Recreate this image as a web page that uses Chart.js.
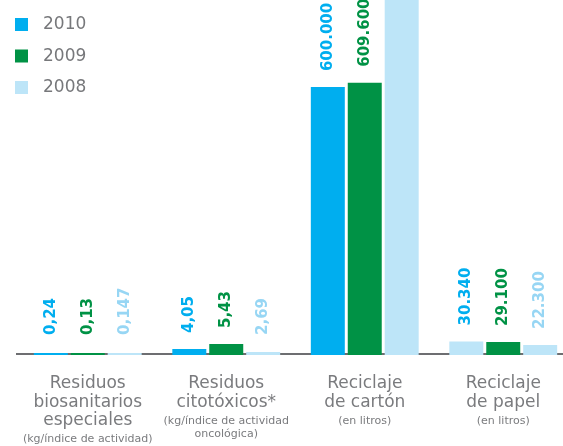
<!DOCTYPE html>
<html lang="es">
<head>
<meta charset="utf-8">
<title>Residuos y reciclaje</title>
<script src="https://cdn.jsdelivr.net/npm/chart.js@4"></script>
<style>
    html, body { margin: 0; padding: 0; background: #fff; overflow: hidden; }
    #wrap { position: relative; width: 580px; height: 446px; }
</style>
</head>
<body>
<div id="wrap"><canvas id="residuosChart"></canvas></div>
<script>
// Categorías (texto principal + unidad en letra pequeña)
const categorias = ['Residuos biosanitarios especiales', 'Residuos citotóxicos*', 'Reciclaje de cartón', 'Reciclaje de papel'];
const lineasCategoria = [['Residuos', 'biosanitarios', 'especiales'], ['Residuos', 'citotóxicos*'], ['Reciclaje', 'de cartón'], ['Reciclaje', 'de papel']];
const lineasUnidad = [['(kg/índice de actividad)'], ['(kg/índice de actividad', 'oncológica)'], ['(en litros)'], ['(en litros)']];

const anios = ['2010', '2009', '2008'];

// Cifras tal como aparecen encima de cada barra
const etiquetas2010 = ['0,24', '4,05', '600.000', '30.340'];
const etiquetas2009 = ['0,13', '5,43', '609.600', '29.100'];
const etiquetas2008 = ['0,147', '2,69', '', '22.300']; // la cifra de cartón 2008 queda fuera del dibujo

// Altura de las barras en el eje de litros (las de kg no van a escala, se leen del dibujo)
const valores2010 = [4500, 13400, 600000, 30340];
const valores2009 = [4500, 24600, 609600, 29100];
const valores2008 = [4500, 6700, 820000, 22300];

const AZUL = '#00aeef';
const VERDE = '#009245';
const CELESTE = '#bde5f8';
const CELESTE_TEXTO = '#97d6f4';
const GRIS = '#6d6e71';

const FUENTE = '"DejaVu Sans", sans-serif';

// Plugin: línea base, leyenda, cifras giradas y nombres de categoría
const dibujoExtra = {
    id: 'dibujoExtra',
    beforeDatasetsDraw(chart) {
        const { ctx, chartArea } = chart;
        ctx.save();
        ctx.fillStyle = GRIS;
        ctx.fillRect(16, chartArea.bottom - 2, chart.width - 16, 2);
        ctx.restore();
    },
    afterDatasetsDraw(chart) {
        const { ctx, chartArea } = chart;
        const etiquetas = [etiquetas2010, etiquetas2009, etiquetas2008];
        const coloresTexto = [AZUL, VERDE, CELESTE_TEXTO];

        ctx.save();
        // cifras verticales encima de las barras
        ctx.font = 'bold 15px ' + FUENTE;
        ctx.textAlign = 'left';
        ctx.textBaseline = 'middle';
        chart.data.datasets.forEach((ds, d) => {
            const meta = chart.getDatasetMeta(d);
            meta.data.forEach((bar, i) => {
                const texto = etiquetas[d][i];
                if (!texto) return;
                const abajo = Math.min(bar.y - 16, chartArea.bottom - 20);
                ctx.save();
                ctx.translate(bar.x, abajo);
                ctx.rotate(-Math.PI / 2);
                ctx.fillStyle = coloresTexto[d];
                ctx.fillText(texto, 0, 0);
                ctx.restore();
            });
        });

        // leyenda arriba a la izquierda
        const colores = [AZUL, VERDE, CELESTE];
        ctx.font = '17px ' + FUENTE;
        anios.forEach((anio, k) => {
            const y = 18 + k * 31.5;
            ctx.fillStyle = colores[k];
            ctx.fillRect(15, y, 13, 13);
            ctx.fillStyle = '#77787b';
            ctx.fillText(anio, 43, y + 7);
        });

        // nombres de categoría bajo el eje
        const xScale = chart.scales.x;
        ctx.textAlign = 'center';
        ctx.textBaseline = 'alphabetic';
        lineasCategoria.forEach((lineas, i) => {
            const x = xScale.getPixelForValue(i);
            let y = chartArea.bottom + 33;
            ctx.font = '17px ' + FUENTE;
            ctx.fillStyle = '#7a7b7e';
            lineas.forEach((l, n) => {
                ctx.fillText(l, x, y + n * 18.5);
            });
            y = y + (lineas.length - 1) * 18.5 + 17;
            ctx.font = '11px ' + FUENTE;
            lineasUnidad[i].forEach((l, n) => {
                ctx.fillText(l, x, y + n * 13);
            });
        });
        ctx.restore();
    }
};

function crearGrafico() {
    const ctx = document.getElementById('residuosChart').getContext('2d');
    // la barra 2010 de papel aparece en celeste en el original
    const fondo2010 = valores2010.map((v, i) => i === 3 ? CELESTE : AZUL);

    new Chart(ctx, {
        type: 'bar',
        data: {
            labels: categorias,
            datasets: [
                { label: anios[0], data: valores2010, backgroundColor: fondo2010 },
                { label: anios[1], data: valores2009, backgroundColor: VERDE },
                { label: anios[2], data: valores2008, backgroundColor: CELESTE }
            ]
        },
        options: {
            responsive: true,
            maintainAspectRatio: false,
            animation: false,
            categoryPercentage: 0.8,
            barPercentage: 0.92,
            layout: { padding: { left: 18.5, right: 7.5, top: 0, bottom: 91 } },
            scales: {
                x: { display: false },
                y: { display: false, min: 0, max: 795000 }
            },
            plugins: {
                legend: { display: false },
                tooltip: { enabled: false }
            }
        },
        plugins: [dibujoExtra]
    });
}

crearGrafico();
</script>
</body>
</html>
